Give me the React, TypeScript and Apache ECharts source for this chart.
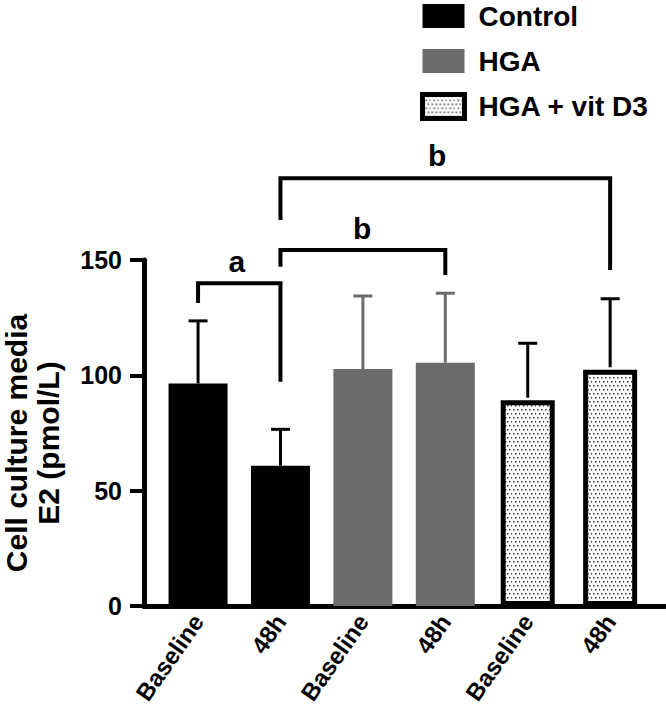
import React, { useEffect, useRef } from 'react';
import * as echarts from 'echarts';

const groups = ['Control', 'HGA', 'HGA + vit D3'];
const timepoints = ['Baseline', '48h'];
const controlMean = [96.5, 60.8];
const controlUpper = [123.6, 76.6];
const hgaMean = [102.7, 105.5];
const hgaUpper = [134.4, 135.6];
const vitMean = [89.2, 102.4];
const vitUpper = [113.9, 133.2];
const yMin = 0;
const yMax = 150;
const yInterval = 50;
// [leftIndex, rightIndex, barValue, leftEndValue, rightEndValue, labelFraction, labelValue, text]
const brackets: [number, number, number, number, number, number, number, string][] = [
  [0, 1, 139.9, 131.4, 97.2, 0.47, 149.3, 'a'],
  [1, 3, 154.3, 147.1, 143.5, 0.495, 163.7, 'b'],
  [1, 5, 185.4, 167.3, 145.7, 0.475, 195.5, 'b'],
];

const FONT = '"Liberation Sans", Arial, Helvetica, sans-serif';
const groupColors = ['#000000', '#6b6b6b', '#000000'];

function makeDots(): string {
  const c = document.createElement('canvas');
  c.width = 8;
  c.height = 8;
  const ctx = c.getContext('2d')!;
  ctx.fillStyle = '#ffffff';
  ctx.fillRect(0, 0, 8, 8);
  ctx.fillStyle = '#333333';
  [[1, 1], [5, 1], [3, 5], [7, 5]].forEach(([x, y]) => ctx.fillRect(x, y, 1.5, 1.5));
  return c.toDataURL();
}

export default function App() {
  const ref = useRef<HTMLDivElement>(null);
  useEffect(() => {
    if (!ref.current) return;
    const chart = echarts.init(ref.current, undefined, { renderer: 'svg' });
    const categories: string[] = [];
    groups.forEach((g) => timepoints.forEach((t) => categories.push(g + '|' + t)));
    const means = [controlMean, hgaMean, vitMean];
    const uppers = [controlUpper, hgaUpper, vitUpper];
    const seriesData = means.map((m, gi) =>
      categories.map((_, ci) => (Math.floor(ci / 2) === gi ? m[ci % 2] : '-'))
    );
    const errData: number[][] = [];
    means.forEach((m, gi) =>
      m.forEach((v, ti) => errData.push([gi * 2 + ti, v, uppers[gi][ti], gi]))
    );
    const dots = makeDots();

    chart.setOption({
      animation: false,
      legend: {
        orient: 'vertical',
        left: 420,
        top: 2,
        padding: 0,
        itemWidth: 42,
        itemHeight: 24,
        itemGap: 17,
        icon: 'rect',
        itemStyle: { borderWidth: 'inherit' },
        textStyle: {
          fontFamily: FONT,
          fontWeight: 'bold',
          fontSize: 28,
          color: '#000',
          padding: [0, 0, 0, 9],
        },
        data: groups,
      },
      grid: [
        { left: 144, top: 260, width: 521, height: 346, outerBoundsMode: 'none', containLabel: false },
        { left: 156.85, top: 260, width: 494.5, height: 346, outerBoundsMode: 'none', containLabel: false },
      ],
      xAxis: [
        {
          gridIndex: 0,
          type: 'value',
          min: 0,
          max: 1,
          axisLine: { show: true, lineStyle: { color: '#000', width: 5 } },
          axisTick: { show: false },
          axisLabel: { show: false },
          splitLine: { show: false },
        },
        {
          gridIndex: 1,
          type: 'category',
          data: categories,
          axisLine: { show: false },
          axisTick: { show: false },
          axisLabel: {
            rotate: 55,
            margin: 11,
            interval: 0,
            fontFamily: FONT,
            fontWeight: 'bold',
            fontSize: 24,
            color: '#000',
            formatter: (v: string) => v.split('|')[1],
          },
        },
        {
          gridIndex: 1,
          type: 'category',
          data: categories,
          show: false,
        },
      ],
      yAxis: [
        {
          gridIndex: 0,
          type: 'value',
          min: yMin,
          max: yMax,
          interval: yInterval,
          name: 'Cell culture media\nE2 (pmol/L)',
          nameLocation: 'middle',
          nameGap: 80,
          nameMoveOverlap: false,
          nameTextStyle: {
            fontFamily: FONT,
            fontWeight: 'bold',
            fontSize: 30,
            lineHeight: 32,
            color: '#000',
            padding: [0, 20, 0, 0],
          },
          axisLine: { show: true, lineStyle: { color: '#000', width: 5 } },
          axisTick: { show: true, length: 14, lineStyle: { color: '#000', width: 4 } },
          axisLabel: {
            margin: 22,
            fontFamily: FONT,
            fontWeight: 'bold',
            fontSize: 25,
            color: '#000',
          },
          splitLine: { show: false },
        },
        {
          gridIndex: 1,
          type: 'value',
          min: yMin,
          max: yMax,
          show: false,
          splitLine: { show: false },
        },
      ],
      series: [
        {
          name: groups[0],
          type: 'bar',
          xAxisIndex: 1,
          yAxisIndex: 1,
          barWidth: 59,
          barGap: '-100%',
          data: seriesData[0],
          itemStyle: { color: '#000000' },
        },
        {
          name: groups[1],
          type: 'bar',
          xAxisIndex: 1,
          yAxisIndex: 1,
          barWidth: 59,
          barGap: '-100%',
          data: seriesData[1],
          itemStyle: { color: '#6b6b6b' },
        },
        {
          name: groups[2],
          type: 'bar',
          xAxisIndex: 2,
          yAxisIndex: 1,
          barWidth: 54,
          data: seriesData[2],
          itemStyle: {
            color: { image: dots, repeat: 'repeat', imageWidth: 8, imageHeight: 8 },
            borderColor: '#000',
            borderWidth: 5,
          },
        },
        {
          type: 'custom',
          xAxisIndex: 1,
          yAxisIndex: 1,
          z: 3,
          data: errData,
          renderItem: (params: any, api: any) => {
            const x = api.coord([api.value(0), api.value(1)]);
            const top = api.coord([api.value(0), api.value(2)]);
            const color = groupColors[api.value(3)];
            const off = api.value(3) === 2 ? 2.5 : 0;
            return {
              type: 'group',
              children: [
                {
                  type: 'line',
                  shape: { x1: x[0], y1: x[1] - off, x2: top[0], y2: top[1] },
                  style: { stroke: color, lineWidth: 3 },
                },
                {
                  type: 'line',
                  shape: { x1: top[0] - 9.5, y1: top[1], x2: top[0] + 9.5, y2: top[1] },
                  style: { stroke: color, lineWidth: 3 },
                },
              ],
            };
          },
        },
        {
          type: 'custom',
          xAxisIndex: 1,
          yAxisIndex: 1,
          clip: false,
          z: 4,
          data: brackets,
          renderItem: (params: any, api: any) => {
            const l = api.coord([api.value(0), api.value(2)]);
            const r = api.coord([api.value(1), api.value(2)]);
            const lb = api.coord([api.value(0), api.value(3)]);
            const rb = api.coord([api.value(1), api.value(4)]);
            const labY = api.coord([api.value(0), api.value(6)])[1];
            const labX = l[0] + api.value(5) * (r[0] - l[0]);
            const text = brackets[params.dataIndex][7];
            return {
              type: 'group',
              children: [
                {
                  type: 'polyline',
                  shape: { points: [[lb[0], lb[1]], [l[0], l[1]], [r[0], r[1]], [rb[0], rb[1]]] },
                  style: { stroke: '#000', lineWidth: 4, fill: null, lineJoin: 'miter' },
                },
                {
                  type: 'text',
                  x: labX,
                  y: labY,
                  style: {
                    text,
                    fill: '#000',
                    font: 'bold 30px ' + FONT,
                    align: 'center',
                    verticalAlign: 'middle',
                  },
                },
              ],
            };
          },
        },
      ],
    });
    return () => chart.dispose();
  }, []);
  return (
    <div
      ref={ref}
      style={{ position: 'fixed', left: 0, top: 0, width: 666, height: 708, background: '#fff' }}
    />
  );
}
